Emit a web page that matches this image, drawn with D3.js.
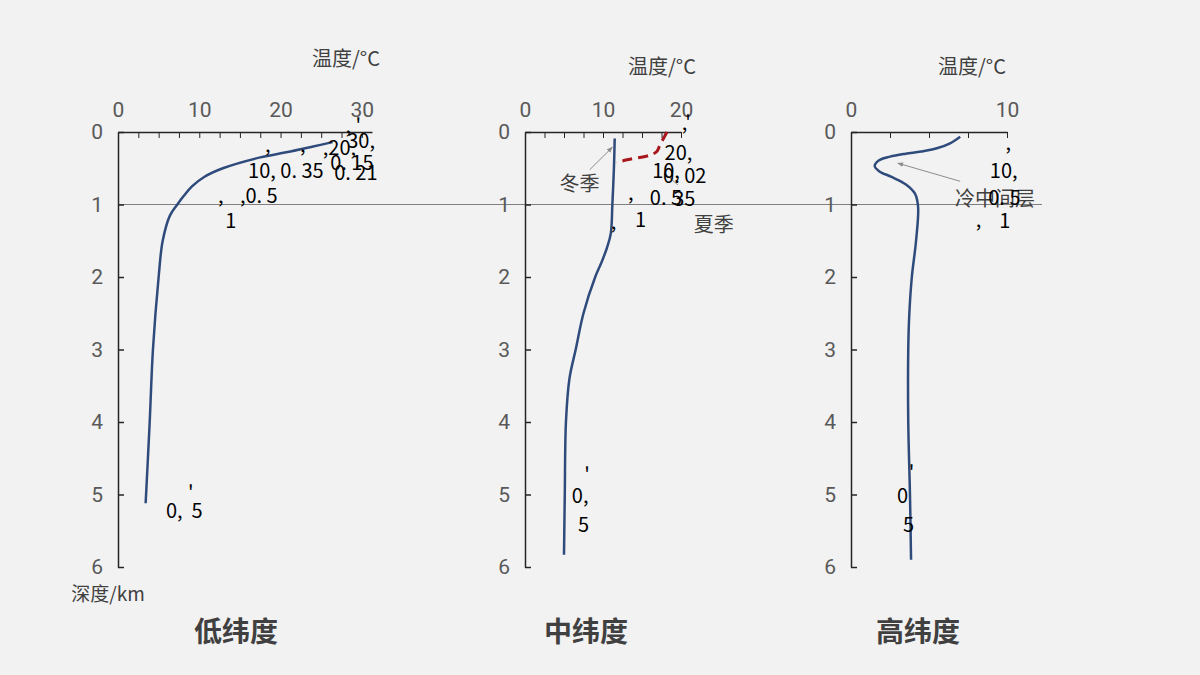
<!DOCTYPE html>
<html>
<head>
<meta charset="utf-8">
<script src="https://cdn.jsdelivr.net/npm/d3@7"></script>
<style>
  html, body { margin: 0; padding: 0; background: #f2f2f2; }
  svg { display: block; }
  .tick text { font-family: "Liberation Sans Narrow", "Roboto", sans-serif; font-size: 21px; fill: #595959; }
  .cjk { font-family: "Noto Sans CJK SC", sans-serif; }
  .dlabel { font-family: "Noto Sans CJK JP", sans-serif; font-size: 20px; fill: #000; }
</style>
</head>
<body>
<div id="canvas"></div>
<script>
// depth ticks (km) and temperature ticks (°C)
const depthTicks = [0, 1, 2, 3, 4, 5, 6];
const lowTempTicks = [0, 10, 20, 30];
const midTempTicks = [0, 10, 20];
const highTempTicks = [0, 10];

// low latitude profile
const lowDepth = [0.14, 0.2, 0.28, 0.35, 0.5, 0.62, 0.75, 0.88, 1.0, 1.15, 1.5, 2, 3, 4, 5.12];
const lowTemp  = [26.4, 24, 20.7, 17.5, 12.9, 10.6, 9.1, 8.1, 7.3, 6.4, 5.5, 5.0, 4.3, 3.9, 3.4];

// mid latitude, winter
const midWinterDepth = [0.09, 0.5, 1.0, 1.4, 1.6, 1.8, 2.0, 2.5, 3.0, 3.4, 4.0, 5.0, 5.83];
const midWinterTemp  = [11.5, 11.4, 11.2, 11.0, 10.5, 9.8, 9.0, 7.5, 6.5, 5.7, 5.25, 5.1, 5.0];

// mid latitude, summer
const midSummerDepth = [0.0, 0.18, 0.27, 0.32, 0.38, 0.42];
const midSummerTemp  = [18.2, 17.3, 16.9, 16.0, 13.25, 11.7];

// high latitude profile
const highDepth = [0.065, 0.156, 0.225, 0.27, 0.3, 0.34, 0.39, 0.47, 0.54, 0.62, 0.72, 0.85, 1.03, 1.5, 2, 2.5, 3, 4, 5, 5.9];
const highTemp  = [7.0, 6.35, 5.5, 4.5, 3.5, 2.5, 1.8, 1.52, 1.8, 2.6, 3.5, 4.1, 4.3, 4.17, 3.9, 3.74, 3.67, 3.67, 3.78, 3.85];

// panel titles
const panelTitles = ["低纬度", "中纬度", "高纬度"];

// stray data labels left over in the original chart (text, temp, depth)
const lowLabels = [
  [", '", 28.0, 0.01], ["30,", 28.2, 0.22], [",20,", 25.2, 0.32], [",", 18.1, 0.28], [",", 22.4, 0.28],
  ["10, 0. 35", 16.0, 0.63], ["0. 15", 26.1, 0.52], ["0. 21", 26.6, 0.66],
  [",", 12.3, 0.98], [",0. 5", 15.0, 0.98], ["1", 13.2, 1.32], ["0,  5", 5.9, 5.32], ["'", 8.6, 5.08]
];
const midLabels = [
  [",'", 20.1, -0.03], ["20,", 17.9, 0.39], ["10,", 16.3, 0.63], ["0. 02", 17.7, 0.70],
  [",", 13.2, 0.94], ["0. 5", 16.0, 1.01], ["35", 19.0, 1.02], ["1", 14.1, 1.31], [",", 11.0, 1.34],
  ["'", 7.6, 4.83], ["0,", 6.0, 5.12], ["5", 6.8, 5.52]
];
const highLabels = [
  [",", 9.9, 0.25], ["10,", 8.9, 0.63], ["0. 5", 8.8, 1.01], [",", 8.0, 1.31], ["1", 9.5, 1.32],
  ["'", 3.7, 4.8], ["0", 2.95, 5.12], ["5", 3.33, 5.52]
];

const width = 1200, height = 675;
const top0 = 132, bottom0 = 567;

const svg = d3.select("#canvas")
  .append("svg")
  .attr("width", width)
  .attr("height", height);

svg.append("defs").append("marker")
  .attr("id", "arrow")
  .attr("viewBox", "0 0 10 10")
  .attr("refX", 9).attr("refY", 5)
  .attr("markerWidth", 6).attr("markerHeight", 6)
  .attr("orient", "auto")
  .append("path")
  .attr("d", "M0,1L10,5L0,9Z")
  .attr("fill", "#8c8c8c");

const y = d3.scaleLinear().domain([0, 6]).range([top0, bottom0]);

const panels = [
  { left: 118, domain: [0, 31.25], range: [118, 372], ticks: lowTempTicks, labels: lowLabels,
    title: panelTitles[0], titleX: 236, unitX: 346, unitY: 66, showDepthUnit: true },
  { left: 525, domain: [0, 20], range: [525, 681], ticks: midTempTicks, labels: midLabels,
    title: panelTitles[1], titleX: 586, unitX: 662, unitY: 74 },
  { left: 851, domain: [0, 10], range: [851, 1007], ticks: highTempTicks, labels: highLabels,
    title: panelTitles[2], titleX: 918, unitX: 972, unitY: 74 }
];

panels.forEach(p => {
  p.x = d3.scaleLinear().domain(p.domain).range(p.range);
});

// reference line at 1 km across the whole figure
svg.append("line")
  .attr("x1", panels[0].left).attr("x2", 1042)
  .attr("y1", y(1)).attr("y2", y(1))
  .attr("stroke", "#7f7f7f")
  .attr("stroke-width", 1);

panels.forEach(p => {
  const g = svg.append("g");
  const maxTick = p.ticks[p.ticks.length - 1];

  // top temperature axis
  const minor = d3.range(0, maxTick + 0.01, 2.5);
  g.append("g")
    .attr("transform", `translate(0,${top0})`)
    .call(d3.axisTop(p.x).tickValues(minor).tickSizeInner(-6).tickSizeOuter(0).tickPadding(15)
      .tickFormat(d => p.ticks.includes(d) ? d : ""))
    .call(s => s.select(".domain").attr("stroke", "#262626").attr("stroke-width", 1.5))
    .call(s => s.selectAll(".tick line").attr("stroke", "#262626"));

  // left depth axis
  g.append("g")
    .attr("transform", `translate(${p.left},0)`)
    .call(d3.axisLeft(y).tickValues(depthTicks).tickFormat(d3.format("d"))
      .tickSizeInner(-6).tickSizeOuter(0).tickPadding(15))
    .call(s => s.select(".domain").attr("stroke", "#262626").attr("stroke-width", 1.5))
    .call(s => s.selectAll(".tick line").attr("stroke", "#262626").attr("stroke-width", 1.5));

  g.append("text")
    .attr("class", "cjk")
    .attr("x", p.unitX).attr("y", p.unitY)
    .attr("text-anchor", "middle")
    .attr("font-size", 20)
    .attr("fill", "#404040")
    .text("温度/°C");

  if (p.showDepthUnit) {
    g.append("text")
      .attr("class", "cjk")
      .attr("x", 108).attr("y", 601)
      .attr("text-anchor", "middle")
      .attr("font-size", 19)
      .attr("fill", "#404040")
      .text("深度/km");
  }

  g.append("text")
    .attr("class", "cjk")
    .attr("x", p.titleX).attr("y", 642)
    .attr("text-anchor", "middle")
    .attr("font-size", 28)
    .attr("font-weight", "bold")
    .attr("fill", "#404040")
    .text(p.title);
});

const line = x => d3.line()
  .x(d => x(d[1]))
  .y(d => y(d[0]))
  .curve(d3.curveCatmullRom.alpha(0.5));

const zip = (a, b) => a.map((d, i) => [d, b[i]]);

// Draw Lines
svg.append("path")
  .datum(zip(lowDepth, lowTemp))
  .attr("fill", "none").attr("stroke", "#2f4b7c").attr("stroke-width", 2.5)
  .attr("d", line(panels[0].x));

svg.append("path")
  .datum(zip(midWinterDepth, midWinterTemp))
  .attr("fill", "none").attr("stroke", "#2f4b7c").attr("stroke-width", 2.5)
  .attr("d", line(panels[1].x));

svg.append("path")
  .datum(zip(midSummerDepth, midSummerTemp))
  .attr("fill", "none").attr("stroke", "#a8171c").attr("stroke-width", 3)
  .attr("stroke-dasharray", "10,6")
  .attr("d", line(panels[1].x));

svg.append("path")
  .datum(zip(highDepth, highTemp))
  .attr("fill", "none").attr("stroke", "#2f4b7c").attr("stroke-width", 2.5)
  .attr("d", line(panels[2].x));

// annotations
const mx = panels[1].x, hx = panels[2].x;
svg.append("line")
  .attr("x1", mx(8.3)).attr("y1", y(0.52)).attr("x2", mx(11.2)).attr("y2", y(0.21))
  .attr("stroke", "#8c8c8c").attr("stroke-width", 1).attr("marker-end", "url(#arrow)");
svg.append("line")
  .attr("x1", mx(18.0)).attr("y1", y(0.58)).attr("x2", mx(19.6)).attr("y2", y(0.73))
  .attr("stroke", "#8c8c8c").attr("stroke-width", 1);
svg.append("line")
  .attr("x1", hx(7.0)).attr("y1", y(0.68)).attr("x2", hx(3.0)).attr("y2", y(0.43))
  .attr("stroke", "#8c8c8c").attr("stroke-width", 1).attr("marker-end", "url(#arrow)");

const note = (x, yy, t) => svg.append("text")
  .attr("class", "cjk")
  .attr("x", x).attr("y", yy)
  .attr("text-anchor", "middle")
  .attr("dominant-baseline", "central")
  .attr("font-size", 20)
  .attr("fill", "#404040")
  .text(t);
note(mx(7.0), y(0.70), "冬季");
note(mx(24.2), y(1.26), "夏季");
note(hx(9.23), y(0.91), "冷中间层");

// stray data labels
panels.forEach(p => {
  svg.append("g")
    .selectAll("text")
    .data(p.labels)
    .join("text")
    .attr("class", "dlabel")
    .attr("x", d => p.x(d[1]))
    .attr("y", d => y(d[2]))
    .attr("xml:space", "preserve")
    .style("white-space", "pre")
    .text(d => d[0]);
});
</script>
</body>
</html>
